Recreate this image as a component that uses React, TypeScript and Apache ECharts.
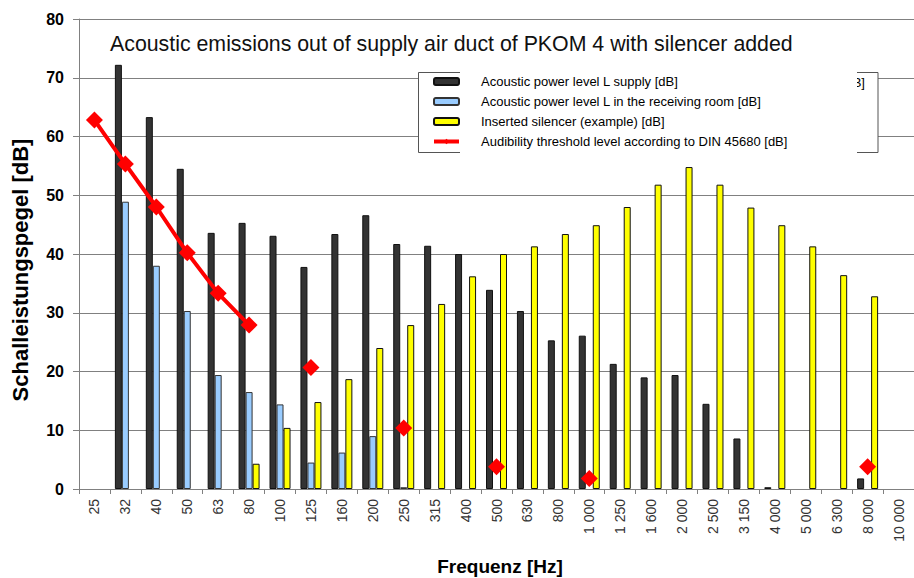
import React, { useEffect, useRef } from 'react';
import * as echarts from 'echarts';

const categories = ['25', '32', '40', '50', '63', '80', '100', '125', '160', '200', '250', '315', '400', '500', '630', '800', '1 000', '1 250', '1 600', '2 000', '2 500', '3 150', '4 000', '5 000', '6 300', '8 000', '10 000'];

const supplyLevel = [null, 72.2, 63.3, 54.5, 43.6, 45.3, 43.1, 37.8, 43.4, 46.6, 41.7, 41.4, 40.0, 33.9, 30.3, 25.3, 26.1, 21.3, 19.0, 19.4, 14.5, 8.6, 0.3, null, null, 1.8, null];
const receivingRoom = [null, 48.9, 38.0, 30.3, 19.4, 16.5, 14.4, 4.5, 6.2, 9.0, 0.3, null, null, null, null, null, null, null, null, null, null, null, null, null, null, null, null];
const silencer = [null, null, null, null, null, 4.3, 10.4, 14.8, 18.7, 24.0, 27.9, 31.5, 36.2, 40.0, 41.3, 43.4, 44.9, 48.0, 51.8, 54.8, 51.8, 47.9, 44.9, 41.3, 36.4, 32.8, null];
const threshold = [62.8, 55.3, 48.0, 40.2, 33.3, 27.9, null, 20.7, null, null, 10.4, null, null, 3.8, null, null, 1.8, null, null, null, null, null, null, null, null, 3.8, null];

const seriesNames = [
  'Acoustic power level L supply [dB]',
  'Acoustic power level L in the receiving room [dB]',
  'Inserted silencer (example) [dB]',
  'Audibility threshold level according to DIN 45680 [dB]',
];
const yTicks = { min: 0, max: 80, interval: 10 };
const titleText = 'Acoustic emissions out of supply air duct of PKOM 4 with silencer added';
const yName = 'Schalleistungspegel [dB]';
const xName = 'Frequenz [Hz]';

const FONT = '"Liberation Sans", Arial, sans-serif';

export default function App() {
  const ref = useRef<HTMLDivElement>(null);
  useEffect(() => {
    const chart = echarts.init(ref.current!, null, { renderer: 'svg' });
    const barBase = { type: 'bar', barWidth: 7, barGap: '0%', z: 2 };
    chart.setOption({
      animation: false,
      backgroundColor: '#ffffff',
      grid: { left: 79, top: 19, width: 843.75, height: 470, containLabel: false },
      xAxis: {
        type: 'category',
        data: categories,
        boundaryGap: true,
        axisLine: { show: true, lineStyle: { color: '#808080', width: 1 } },
        axisTick: { show: true, length: 5, alignWithLabel: false, lineStyle: { color: '#808080' } },
        axisLabel: { interval: 0, rotate: 90, fontSize: 14, color: '#333', fontFamily: FONT, margin: 10 },
        splitLine: { show: false },
      },
      yAxis: {
        type: 'value',
        min: yTicks.min,
        max: yTicks.max,
        interval: yTicks.interval,
        axisLine: { show: true, lineStyle: { color: '#808080', width: 1 } },
        axisTick: { show: true, length: 6, lineStyle: { color: '#808080' } },
        axisLabel: { fontSize: 16, fontWeight: 'bold', color: '#000', fontFamily: FONT, margin: 15 },
        splitLine: { show: true, lineStyle: { color: '#808080', width: 1 } },
      },
      legend: {
        orient: 'vertical',
        left: 432,
        top: 75,
        itemWidth: 25,
        itemHeight: 7,
        itemGap: 7,
        padding: 0,
        z: 20,
        data: [
          seriesNames[0],
          seriesNames[1],
          seriesNames[2],
          { name: seriesNames[3], lineStyle: { width: 4, color: '#FF0000' } },
        ],
        textStyle: { fontSize: 13, color: '#000', fontFamily: FONT, padding: [0, 0, 0, 17] },
      },
      graphic: [
        { type: 'rect', z: 10, shape: { x: 418.5, y: 72.5, width: 459.5, height: 80 }, style: { fill: '#fff', stroke: '#555', lineWidth: 1 } },
        { type: 'text', z: 11, x: 865, y: 82, style: { text: 'B]', fontSize: 13, fontFamily: FONT, fill: '#000', textAlign: 'right', textVerticalAlign: 'middle' } },
        { type: 'rect', z: 12, shape: { x: 460, y: 70, width: 397, height: 86 }, style: { fill: '#fff' } },
        { type: 'text', z: 12, x: 110, y: 43, scaleX: 0.97, style: { text: titleText, fontSize: 22, fontFamily: FONT, fill: '#111', textAlign: 'left', textVerticalAlign: 'middle' } },
        { type: 'text', z: 12, x: 20, y: 270, rotation: Math.PI / 2, style: { text: yName, fontSize: 22, fontWeight: 'bold', fontFamily: FONT, fill: '#000', textAlign: 'center', textVerticalAlign: 'middle' } },
        { type: 'text', z: 12, x: 500, y: 566, style: { text: xName, fontSize: 19, fontWeight: 'bold', fontFamily: FONT, fill: '#000', textAlign: 'center', textVerticalAlign: 'middle' } },
      ],
      series: [
        { ...barBase, name: seriesNames[0], data: supplyLevel, itemStyle: { color: '#333333', borderColor: '#111', borderWidth: 1 } },
        { ...barBase, name: seriesNames[1], data: receivingRoom, itemStyle: { color: '#99CCFF', borderColor: '#333', borderWidth: 1 } },
        { ...barBase, name: seriesNames[2], data: silencer, itemStyle: { color: '#FFFF00', borderColor: '#111', borderWidth: 1 } },
        {
          type: 'line',
          name: seriesNames[3],
          data: threshold,
          z: 5,
          connectNulls: false,
          showSymbol: true,
          showAllSymbol: true,
          symbol: 'diamond',
          symbolSize: 17,
          lineStyle: { color: '#FF0000', width: 4 },
          itemStyle: { color: '#FF0000' },
        },
      ],
    });
    return () => chart.dispose();
  }, []);
  return <div ref={ref} style={{ position: 'absolute', left: 0, top: 0, width: 914, height: 578, background: '#fff' }} />;
}
